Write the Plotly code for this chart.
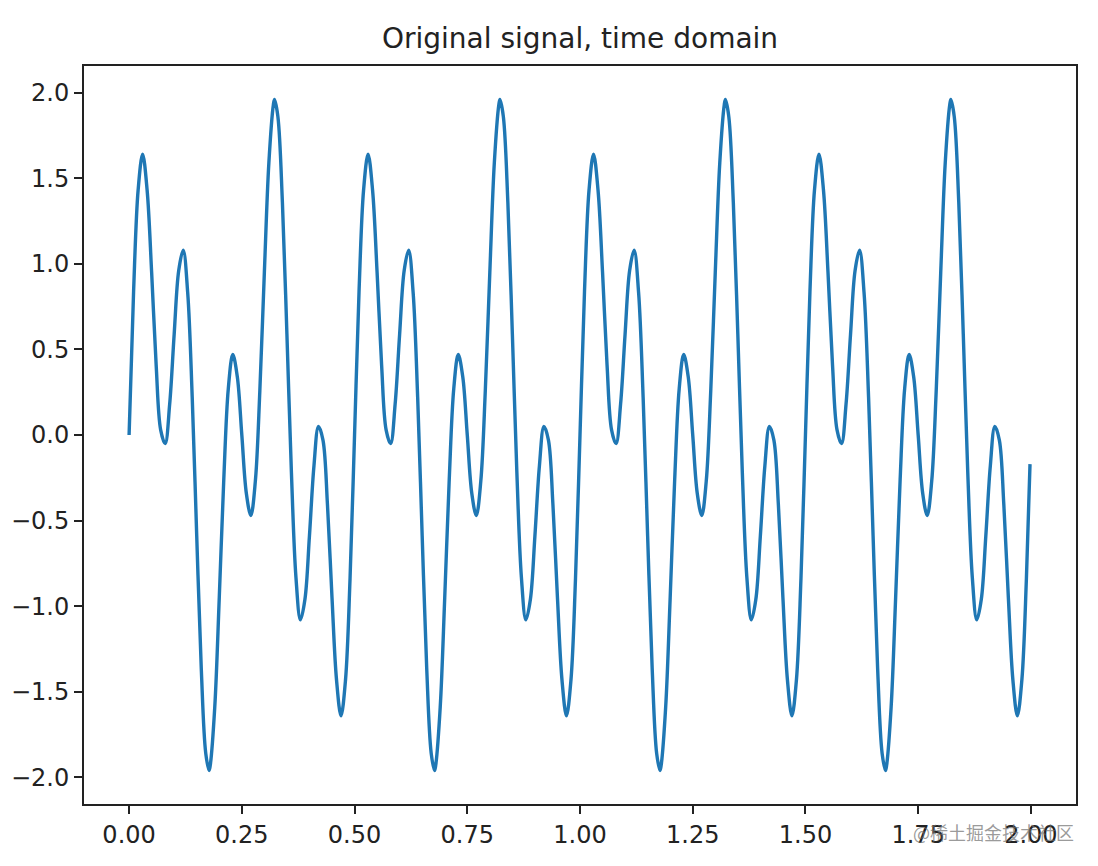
import numpy as np
import plotly.graph_objects as go

# Sample times (s): 0.00 .. 1.99 step 0.01, plus the last sample near 2.0
t = list(np.round(np.arange(0, 2.0, 0.01), 2)) + [1.998]

# Signal values (one value per sample time)
signal = [
    0.00, 0.84, 1.43, 1.64, 1.43, 0.95, 0.41, 0.03, -0.05, 0.18,
    0.59, 0.96, 1.08, 0.83, 0.22, -0.59, -1.36, -1.86, -1.93, -1.59,
    -0.95, -0.26, 0.27, 0.47, 0.34, 0.00, -0.34, -0.47, -0.27, 0.26,
    0.95, 1.59, 1.93, 1.86, 1.36, 0.59, -0.22, -0.83, -1.08, -0.96,
    -0.59, -0.18, 0.05, -0.03, -0.41, -0.95, -1.43, -1.64, -1.43, -0.84,
    0.00, 0.84, 1.43, 1.64, 1.43, 0.95, 0.41, 0.03, -0.05, 0.18,
    0.59, 0.96, 1.08, 0.83, 0.22, -0.59, -1.36, -1.86, -1.93, -1.59,
    -0.95, -0.26, 0.27, 0.47, 0.34, 0.00, -0.34, -0.47, -0.27, 0.26,
    0.95, 1.59, 1.93, 1.86, 1.36, 0.59, -0.22, -0.83, -1.08, -0.96,
    -0.59, -0.18, 0.05, -0.03, -0.41, -0.95, -1.43, -1.64, -1.43, -0.84,
    0.00, 0.84, 1.43, 1.64, 1.43, 0.95, 0.41, 0.03, -0.05, 0.18,
    0.59, 0.96, 1.08, 0.83, 0.22, -0.59, -1.36, -1.86, -1.93, -1.59,
    -0.95, -0.26, 0.27, 0.47, 0.34, 0.00, -0.34, -0.47, -0.27, 0.26,
    0.95, 1.59, 1.93, 1.86, 1.36, 0.59, -0.22, -0.83, -1.08, -0.96,
    -0.59, -0.18, 0.05, -0.03, -0.41, -0.95, -1.43, -1.64, -1.43, -0.84,
    0.00, 0.84, 1.43, 1.64, 1.43, 0.95, 0.41, 0.03, -0.05, 0.18,
    0.59, 0.96, 1.08, 0.83, 0.22, -0.59, -1.36, -1.86, -1.93, -1.59,
    -0.95, -0.26, 0.27, 0.47, 0.34, 0.00, -0.34, -0.47, -0.27, 0.26,
    0.95, 1.59, 1.93, 1.86, 1.36, 0.59, -0.22, -0.83, -1.08, -0.96,
    -0.59, -0.18, 0.05, -0.03, -0.41, -0.95, -1.43, -1.64, -1.43, -0.84,
    -0.17,
]

# Extra readings at the tallest peaks / deepest troughs
peak_t = [0.1775, 0.3225, 0.6775, 0.8225, 1.1775, 1.3225, 1.6775, 1.8225]
peak_v = [-1.96, 1.96, -1.96, 1.96, -1.96, 1.96, -1.96, 1.96]

x_ticks = [0.00, 0.25, 0.50, 0.75, 1.00, 1.25, 1.50, 1.75, 2.00]
y_ticks = [-2.0, -1.5, -1.0, -0.5, 0.0, 0.5, 1.0, 1.5, 2.0]
title_text = "Original signal, time domain"
watermark = "@稀土掘金技术社区"

# merge the two sets of readings in time order
pairs = sorted(zip(list(t) + peak_t, signal + peak_v))
xs = [p[0] for p in pairs]
ys = [p[1] for p in pairs]

fig = go.Figure()
fig.add_trace(go.Scatter(
    x=xs, y=ys, mode="lines",
    line=dict(color="#1f77b4", width=3.4, shape="spline", smoothing=1.0),
    showlegend=False, hoverinfo="skip",
))

font_family = "DejaVu Sans"
axis_common = dict(
    showgrid=False, zeroline=False, showline=True, mirror=True,
    linecolor="#222222", linewidth=1.9, automargin=False,
    ticks="outside", ticklen=8, tickwidth=1.9, tickcolor="#222222",
    tickfont=dict(family=font_family, size=24, color="#222222"),
)

fig.update_layout(
    width=1082, height=850,
    paper_bgcolor="white", plot_bgcolor="white",
    margin=dict(l=76, r=14, t=58, b=54),
    title=dict(text=title_text, x=0.5287, xanchor="center", y=0.9647, yanchor="middle",
               font=dict(family=font_family, size=28, color="#222222")),
    xaxis=dict(range=[-0.1, 2.1], tickvals=x_ticks, tickformat=".2f", **axis_common),
    yaxis=dict(range=[-2.156, 2.156], tickvals=y_ticks, tickformat=".1f", **axis_common),
)

fig.add_annotation(
    text=watermark, xref="paper", yref="paper", x=1.0, y=-0.038,
    xanchor="right", yanchor="middle", showarrow=False,
    font=dict(family="Noto Sans CJK SC", size=18, color="rgba(110,110,110,0.7)"),
)

fig.write_html("out.html")
